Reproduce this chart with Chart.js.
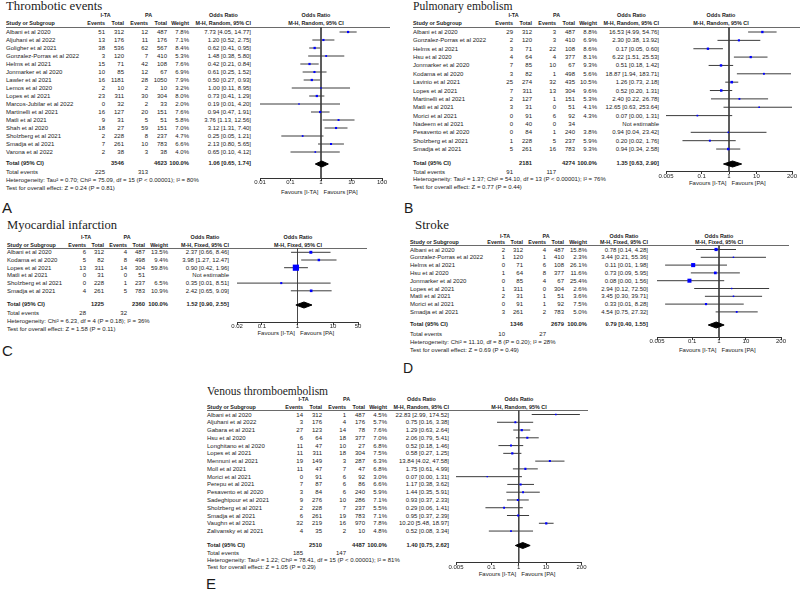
<!DOCTYPE html>
<html>
<head>
<meta charset="utf-8">
<script src="https://cdn.jsdelivr.net/npm/chart.js@4.4.1/dist/chart.umd.min.js"></script>
<style>
  body { margin: 0; background: #fff; }
  #page { position: relative; width: 800px; height: 596px; overflow: hidden; background: #fff;
          font-family: "Liberation Sans", Arial, sans-serif; color: #1b1b1b; }
  .t { position: absolute; white-space: nowrap; }
  .hl { position: absolute; height: 1px; background: #6a6a6a; }
  canvas { position: absolute; }
</style>
</head>
<body>
<div id="page"></div>
<script>
// ---------- A: Thrombotic events ----------
const teStudies = ['Albani et al 2020', 'Aljuhani et al 2022', 'Goligher et al 2021', 'Gonzalez-Porras et al 2022', 'Helms et al 2021', 'Jonmarker et al 2020', 'Lawler et al 2021', 'Lemos et al 2020', 'Lopes et al 2021', 'Marcos-Jubilar et al 2022', 'Martinelli et al 2021', 'Matli et al 2021', 'Shah et al 2020', 'Sholzberg et al 2021', 'Smadja et al 2021', 'Varona et al 2022'];
const teItaEvents = [51, 13, 38, 3, 15, 10, 16, 2, 23, 0, 16, 9, 18, 2, 7, 2];
const teItaTotal = [312, 176, 536, 120, 71, 85, 1181, 10, 311, 32, 127, 31, 27, 228, 261, 38];
const tePaEvents = [12, 11, 62, 7, 42, 12, 28, 2, 30, 2, 20, 5, 59, 8, 10, 3];
const tePaTotal = [487, 176, 567, 410, 108, 67, 1050, 10, 304, 33, 151, 51, 151, 237, 783, 38];
const teWeight = [7.8, 7.1, 8.4, 5.3, 7.6, 6.9, 7.9, 3.2, 8.0, 2.0, 7.6, 5.8, 7.0, 4.7, 6.6, 4.0];
const teOR = [7.73, 1.20, 0.62, 1.48, 0.42, 0.61, 0.50, 1.00, 0.73, 0.19, 0.94, 3.76, 3.12, 0.25, 2.13, 0.65];
const teLow = [4.05, 0.52, 0.41, 0.38, 0.21, 0.25, 0.27, 0.11, 0.41, 0.01, 0.47, 1.13, 1.31, 0.05, 0.80, 0.10];
const teHigh = [14.77, 2.75, 0.95, 5.80, 0.84, 1.52, 0.93, 8.95, 1.29, 4.20, 1.91, 12.56, 7.40, 1.21, 5.65, 4.12];
const teTotals = [3546, 4623];
const teEvents = [225, 313];
const tePooled = [1.06, 0.65, 1.74];
const teHet = 'Heterogeneity: Tau² = 0.70; Chi² = 75.09, df = 15 (P < 0.00001); I² = 80%';
const teTest = 'Test for overall effect: Z = 0.24 (P = 0.81)';
const teTicks = [0.01, 0.1, 1, 10, 100];
const teTickLabels = ['0.01', '0.1', '1', '10', '100'];

// ---------- B: Pulmonary embolism ----------
const peStudies = ['Albani et al 2020', 'Gonzalez-Porras et al 2022', 'Helms et al 2021', 'Hsu et al 2020', 'Jonmarker et al 2020', 'Kodama et al 2020', 'Lavinio et al 2021', 'Lopes et al 2021', 'Martinelli et al 2021', 'Matli et al 2021', 'Morici et al 2021', 'Nadeem et al 2021', 'Pesavento et al 2020', 'Sholzberg et al 2021', 'Smadja et al 2021'];
const peItaEvents = [29, 2, 3, 4, 7, 3, 25, 7, 2, 3, 0, 0, 0, 1, 5];
const peItaTotal = [312, 120, 71, 64, 85, 82, 274, 311, 127, 31, 91, 40, 84, 228, 261];
const pePaEvents = [3, 3, 22, 4, 10, 1, 32, 13, 1, 0, 6, 0, 1, 5, 16];
const pePaTotal = [487, 410, 108, 377, 67, 498, 435, 304, 151, 51, 92, 34, 240, 237, 783];
const peWeight = [8.8, 6.9, 8.6, 8.1, 9.3, 5.6, 10.5, 9.6, 5.3, 4.1, 4.3, null, 3.8, 5.9, 9.3];
const peOR = [16.53, 2.30, 0.17, 6.22, 0.51, 18.87, 1.26, 0.52, 2.40, 12.65, 0.07, null, 0.94, 0.20, 0.94];
const peLow = [4.99, 0.38, 0.05, 1.51, 0.18, 1.94, 0.73, 0.20, 0.22, 0.63, 0.0037, null, 0.04, 0.02, 0.34];
const peHigh = [54.76, 13.92, 0.60, 25.53, 1.42, 183.71, 2.18, 1.31, 26.78, 253.64, 1.31, null, 23.42, 1.76, 2.58];
const peTotals = [2181, 4274];
const peEvents = [91, 117];
const pePooled = [1.35, 0.63, 2.90];
const peHet = 'Heterogeneity: Tau² = 1.37; Chi² = 54.10, df = 13 (P < 0.00001); I² = 76%';
const peTest = 'Test for overall effect: Z = 0.77 (P = 0.44)';
const peTicks = [0.005, 0.1, 1, 10, 200];
const peTickLabels = ['0.005', '0.1', '1', '10', '200'];

// ---------- C: Myocardial infarction ----------
const miStudies = ['Albani et al 2020', 'Kodama et al 2020', 'Lopes et al 2021', 'Matli et al 2021', 'Sholzberg et al 2021', 'Smadja et al 2021'];
const miItaEvents = [6, 5, 13, 0, 0, 4];
const miItaTotal = [312, 82, 311, 31, 228, 261];
const miPaEvents = [4, 8, 14, 0, 1, 5];
const miPaTotal = [487, 498, 304, 51, 237, 783];
const miWeight = [13.5, 9.4, 59.8, null, 6.5, 10.9];
const miOR = [2.37, 3.98, 0.90, null, 0.35, 2.42];
const miLow = [0.66, 1.27, 0.42, null, 0.01, 0.65];
const miHigh = [8.46, 12.47, 1.96, null, 8.51, 9.09];
const miTotals = [1225, 2360];
const miEvents = [28, 32];
const miPooled = [1.52, 0.90, 2.55];
const miHet = 'Heterogeneity: Chi² = 6.23, df = 4 (P = 0.18); I² = 36%';
const miTest = 'Test for overall effect: Z = 1.58 (P = 0.11)';
const miTicks = [0.02, 0.1, 1, 10, 50];
const miTickLabels = ['0.02', '0.1', '1', '10', '50'];

// ---------- D: Stroke ----------
const stStudies = ['Albani et al 2020', 'Gonzalez-Porras et al 2022', 'Helms et al 2021', 'Hsu et al 2020', 'Jonmarker et al 2020', 'Lopes et al 2021', 'Matli et al 2021', 'Morici et al 2021', 'Smadja et al 2021'];
const stItaEvents = [2, 1, 0, 1, 0, 1, 2, 0, 3];
const stItaTotal = [312, 120, 71, 64, 85, 311, 31, 91, 261];
const stPaEvents = [4, 1, 6, 8, 4, 0, 1, 1, 2];
const stPaTotal = [487, 410, 108, 377, 67, 304, 51, 92, 783];
const stWeight = [15.8, 2.3, 26.1, 11.6, 25.4, 2.6, 3.6, 7.5, 5.0];
const stOR = [0.78, 3.44, 0.11, 0.73, 0.08, 2.94, 3.45, 0.33, 4.54];
const stLow = [0.14, 0.21, 0.01, 0.09, 0.0041, 0.12, 0.30, 0.01, 0.75];
const stHigh = [4.28, 55.36, 1.98, 5.95, 1.56, 72.50, 39.71, 8.28, 27.32];
const stTotals = [1346, 2679];
const stEvents = [10, 27];
const stPooled = [0.79, 0.40, 1.55];
const stHet = 'Heterogeneity: Chi² = 11.10, df = 8 (P = 0.20); I² = 28%';
const stTest = 'Test for overall effect: Z = 0.69 (P = 0.49)';
const stTicks = [0.005, 0.1, 1, 10, 200];
const stTickLabels = ['0.005', '0.1', '1', '10', '200'];

// ---------- E: Venous thromboembolism ----------
const vteStudies = ['Albani et al 2020', 'Aljuhani et al 2022', 'Gabara et al 2021', 'Hsu et al 2020', 'Longhitano et al 2020', 'Lopes et al 2021', 'Mennuni et al 2021', 'Moll et al 2021', 'Morici et al 2021', 'Perepu et al 2021', 'Pesavento et al 2020', 'Sadeghipour et al 2021', 'Sholzberg et al 2021', 'Smadja et al 2021', 'Vaughn et al 2021', 'Zalivansky et al 2021'];
const vteItaEvents = [14, 3, 27, 6, 11, 11, 19, 11, 0, 7, 3, 9, 2, 6, 32, 4];
const vteItaTotal = [312, 176, 123, 64, 47, 311, 149, 47, 91, 87, 84, 276, 228, 261, 219, 35];
const vtePaEvents = [1, 4, 14, 18, 10, 18, 3, 7, 6, 6, 6, 10, 7, 19, 16, 2];
const vtePaTotal = [487, 176, 78, 377, 27, 304, 287, 47, 92, 86, 240, 286, 237, 783, 970, 10];
const vteWeight = [4.5, 5.7, 7.6, 7.0, 6.8, 7.5, 6.3, 6.8, 3.0, 6.6, 5.9, 7.1, 5.5, 7.1, 7.8, 4.8];
const vteOR = [22.83, 0.75, 1.29, 2.06, 0.52, 0.58, 13.84, 1.75, 0.07, 1.17, 1.44, 0.93, 0.29, 0.95, 10.20, 0.52];
const vteLow = [2.99, 0.16, 0.63, 0.79, 0.18, 0.27, 4.02, 0.61, 0.0037, 0.38, 0.35, 0.37, 0.06, 0.37, 5.48, 0.08];
const vteHigh = [174.52, 3.38, 2.64, 5.41, 1.46, 1.25, 47.58, 4.99, 1.31, 3.62, 5.91, 2.33, 1.41, 2.39, 18.97, 3.34];
const vteTotals = [2510, 4487];
const vteEvents = [185, 147];
const vtePooled = [1.40, 0.75, 2.62];
const vteHet = 'Heterogeneity: Tau² = 1.22; Chi² = 78.41, df = 15 (P < 0.00001); I² = 81%';
const vteTest = 'Test for overall effect: Z = 1.05 (P = 0.29)';
const vteTicks = [0.005, 0.1, 1, 10, 200];
const vteTickLabels = ['0.005', '0.1', '1', '10', '200'];

const SANS = '"Liberation Sans", Arial, sans-serif';
const SERIF = '"Liberation Serif", "Times New Roman", serif';
Chart.defaults.font.family = SANS;

const HDR = 5.4;   // header font size
const TOT = 5.8;   // bold total row font size

// page layout for each panel (pixels)
const panels = [
  { letter: 'A', title: 'Thrombotic events', method: 'M-H, Random, 95% CI',
    studies: teStudies, itaEv: teItaEvents, itaN: teItaTotal, paEv: tePaEvents, paN: tePaTotal,
    weight: teWeight, or: teOR, lo: teLow, hi: teHigh, totals: teTotals, events: teEvents, pooled: tePooled,
    het: teHet, test: teTest, ticks: teTicks, tickLabels: teTickLabels,
    lay: { x0: 6, cols: [105, 124, 148, 167, 189, 251], hdr1: 16, hdr2: 23.5, line: [27, 6, 390],
           y0: 32, rowH: 8, totalY: 164, evY: 172, hetY: 180, testY: 188,
           title: { x: 6, base: 11, size: 12.8 }, letter: { x: 2, base: 213, size: 15 },
           plot: { l: 260, r: 382, min: 0.01, max: 100, axisY: 178, favY: 192, hdrX: 316 } } },
  { letter: 'B', title: 'Pulmonary embolism', method: 'M-H, Random, 95% CI',
    studies: peStudies, itaEv: peItaEvents, itaN: peItaTotal, paEv: pePaEvents, paN: pePaTotal,
    weight: peWeight, or: peOR, lo: peLow, hi: peHigh, totals: peTotals, events: peEvents, pooled: pePooled,
    het: peHet, test: peTest, ticks: peTicks, tickLabels: peTickLabels,
    lay: { x0: 413, cols: [513, 532, 556, 575, 597, 659], hdr1: 16, hdr2: 23.5, line: [27, 413, 800],
           y0: 32, rowH: 8.36, totalY: 164, evY: 172, hetY: 179, testY: 186.5,
           title: { x: 413, base: 11, size: 11.6 }, letter: { x: 404, base: 213, size: 14 },
           plot: { l: 666, r: 792, min: 0.005, max: 200, axisY: 172, favY: 183, hdrX: 721 } } },
  { letter: 'C', title: 'Myocardial infarction', method: 'M-H, Fixed, 95% CI',
    studies: miStudies, itaEv: miItaEvents, itaN: miItaTotal, paEv: miPaEvents, paN: miPaTotal,
    weight: miWeight, or: miOR, lo: miLow, hi: miHigh, totals: miTotals, events: miEvents, pooled: miPooled,
    het: miHet, test: miTest, ticks: miTicks, tickLabels: miTickLabels,
    lay: { x0: 7, cols: [86, 104, 127, 145, 168, 229], hdr1: 238, hdr2: 245.5, line: [248.5, 7, 367],
           y0: 252.3, rowH: 7.7, totalY: 305, evY: 313, hetY: 321, testY: 329,
           title: { x: 7, base: 229.5, size: 12.6 }, letter: { x: 2, base: 356, size: 15 },
           plot: { l: 237, r: 358, min: 0.02, max: 50, axisY: 322, favY: 333, hdrX: 298 } } },
  { letter: 'D', title: 'Stroke', method: 'M-H, Fixed, 95% CI',
    studies: stStudies, itaEv: stItaEvents, itaN: stItaTotal, paEv: stPaEvents, paN: stPaTotal,
    weight: stWeight, or: stOR, lo: stLow, hi: stHigh, totals: stTotals, events: stEvents, pooled: stPooled,
    het: stHet, test: stTest, ticks: stTicks, tickLabels: stTickLabels,
    lay: { x0: 410, cols: [505, 523, 546, 564, 587, 648], hdr1: 236.5, hdr2: 242.5, line: [245.5, 410, 789],
           y0: 249.5, rowH: 7.8, totalY: 325, evY: 334, hetY: 342, testY: 349.5,
           title: { x: 415, base: 228.5, size: 13 }, letter: { x: 403, base: 373, size: 14 },
           plot: { l: 657, r: 781, min: 0.005, max: 200, axisY: 337, favY: 350, hdrX: 719 } } },
  { letter: 'E', title: 'Venous thromboembolism', method: 'M-H, Random, 95% CI',
    studies: vteStudies, itaEv: vteItaEvents, itaN: vteItaTotal, paEv: vtePaEvents, paN: vtePaTotal,
    weight: vteWeight, or: vteOR, lo: vteLow, hi: vteHigh, totals: vteTotals, events: vteEvents, pooled: vtePooled,
    het: vteHet, test: vteTest, ticks: vteTicks, tickLabels: vteTickLabels,
    lay: { x0: 207, cols: [303, 322, 346, 365, 387, 449], hdr1: 400, hdr2: 407.5, line: [410.5, 207, 588],
           y0: 414.5, rowH: 7.77, totalY: 545.5, evY: 553, hetY: 560, testY: 567,
           title: { x: 207, base: 396, size: 11.5 }, letter: { x: 206, base: 589, size: 15 },
           plot: { l: 456, r: 581.5, min: 0.005, max: 200, axisY: 562.3, favY: 574.3, hdrX: 519 } } }
];

const page = document.getElementById('page');

// y is the text centre unless o.base (baseline) is given
function put(str, x, y, o) {
  o = o || {};
  const s = o.size || 6;
  const d = document.createElement('div');
  d.className = 't';
  d.textContent = str;
  d.style.fontSize = s + 'px';
  d.style.lineHeight = s + 'px';
  if (o.family) d.style.fontFamily = o.family;
  if (o.bold) d.style.fontWeight = 'bold';
  const asc = o.family === SERIF ? 0.8375 : 0.8465;
  d.style.top = (o.base != null ? o.base - asc * s : y - s / 2) + 'px';
  if (o.align === 'right') d.style.right = (800 - x) + 'px';
  else if (o.align === 'center') { d.style.left = x + 'px'; d.style.transform = 'translateX(-50%)'; }
  else d.style.left = x + 'px';
  page.appendChild(d);
  return d;
}

const f2 = v => v.toFixed(2);
const ciText = (or, lo, hi) => or == null ? 'Not estimable' : f2(or) + ' [' + f2(lo) + ', ' + f2(hi) + ']';
const markRadius = w => Math.max(1.4, 0.8 * Math.sqrt(w)) / (2 * Math.SQRT1_2);

function buildTable(p) {
  const L = p.lay, c = L.cols;
  const H = { bold: true, size: HDR };
  const HR = { bold: true, size: HDR, align: 'right' };
  const HC = { bold: true, size: HDR, align: 'center' };
  put(p.title, L.title.x, 0, { base: L.title.base, size: L.title.size, family: SERIF });
  put(p.letter, L.letter.x, 0, { base: L.letter.base, size: L.letter.size });

  // header
  put('Study or Subgroup', L.x0, L.hdr2, H);
  const ev1 = put('Events', c[0], L.hdr2, HR);
  put('Total', c[1], L.hdr2, HR);
  const ev2 = put('Events', c[2], L.hdr2, HR);
  put('Total', c[3], L.hdr2, HR);
  put('Weight', c[4], L.hdr2, HR);
  const m = put(p.method, c[5], L.hdr2, HR);
  put('I-TA', (c[0] - ev1.offsetWidth + c[1]) / 2, L.hdr1, HC);
  put('PA', (c[2] - ev2.offsetWidth + c[3]) / 2, L.hdr1, HC);
  put('Odds Ratio', c[5] - m.offsetWidth / 2, L.hdr1, HC);
  put('Odds Ratio', L.plot.hdrX, L.hdr1, HC);
  put(p.method, L.plot.hdrX, L.hdr2, HC);

  const hl = document.createElement('div');
  hl.className = 'hl';
  hl.style.left = L.line[1] + 'px';
  hl.style.top = Math.round(L.line[0] - 0.5) + 'px';
  hl.style.width = (L.line[2] - L.line[1]) + 'px';
  page.appendChild(hl);

  // study rows
  p.studies.forEach((s, i) => {
    const y = L.y0 + i * L.rowH;
    put(s, L.x0, y);
    put(String(p.itaEv[i]), c[0], y, { align: 'right' });
    put(String(p.itaN[i]), c[1], y, { align: 'right' });
    put(String(p.paEv[i]), c[2], y, { align: 'right' });
    put(String(p.paN[i]), c[3], y, { align: 'right' });
    if (p.weight[i] != null) put(p.weight[i].toFixed(1) + '%', c[4], y, { align: 'right' });
    put(ciText(p.or[i], p.lo[i], p.hi[i]), c[5], y, { align: 'right' });
  });

  // totals
  const B = { bold: true, size: TOT }, BR = { bold: true, size: TOT, align: 'right' };
  put('Total (95% CI)', L.x0, L.totalY, B);
  put(String(p.totals[0]), c[1], L.totalY, BR);
  put(String(p.totals[1]), c[3], L.totalY, BR);
  put('100.0%', c[4], L.totalY, BR);
  put(ciText(p.pooled[0], p.pooled[1], p.pooled[2]), c[5], L.totalY, BR);
  put('Total events', L.x0, L.evY);
  put(String(p.events[0]), c[0], L.evY, { align: 'right' });
  put(String(p.events[1]), c[2], L.evY, { align: 'right' });
  put(p.het, L.x0, L.hetY);
  put(p.test, L.x0, L.testY);

  // favours labels under the axis
  const x1 = (L.plot.l + L.plot.r) / 2;
  put('Favours [I-TA]', x1 - 2.5, L.plot.favY, { align: 'right' });
  put('Favours [PA]', x1 + 2.5, L.plot.favY);
}

function buildPlot(p) {
  const L = p.lay, P = L.plot;
  const left = Math.floor(P.l - 14), right = Math.ceil(P.r + 14);
  const top = Math.floor(L.line[0] - 2), bottom = Math.ceil(P.axisY + 12);
  const cv = document.createElement('canvas');
  cv.width = right - left; cv.height = bottom - top;
  cv.style.left = left + 'px'; cv.style.top = top + 'px';
  cv.style.width = cv.width + 'px'; cv.style.height = cv.height + 'px';
  page.appendChild(cv);

  const row = y => (y - L.y0) / L.rowH;   // page y -> row units
  const tRow = row(L.totalY), half = 3 / L.rowH;

  const pts = [], radii = [];
  p.or.forEach((v, i) => { if (v != null) { pts.push({ x: v, y: i }); radii.push(markRadius(p.weight[i])); } });

  const ciSets = [];
  p.or.forEach((v, i) => {
    if (v == null) return;
    ciSets.push({ data: [{ x: p.lo[i], y: i }, { x: p.hi[i], y: i }], showLine: true,
                  borderColor: '#3c3c3c', borderWidth: 1, pointRadius: 0 });
  });

  const [pOR, pLo, pHi] = p.pooled;
  const datasets = [
    { data: pts, pointStyle: 'rect', pointRadius: radii, pointBackgroundColor: '#0000ff',
      pointBorderWidth: 0, showLine: false },
    { data: [{ x: pLo, y: tRow }, { x: pOR, y: tRow - half }, { x: pHi, y: tRow }, { x: pOR, y: tRow + half }, { x: pLo, y: tRow }],
      showLine: true, fill: 'shape', backgroundColor: '#000', borderColor: '#000', borderWidth: 1, pointRadius: 0 },
    ...ciSets,
    { data: [{ x: 1, y: row(L.line[0]) }, { x: 1, y: row(P.axisY) }], showLine: true,
      borderColor: '#474747', borderWidth: 1, pointRadius: 0 }
  ];

  new Chart(cv, {
    type: 'scatter',
    data: { datasets },
    options: {
      responsive: false,
      animation: false,
      events: [],
      layout: { autoPadding: false, padding: { left: P.l - left, right: right - P.r, top: 0, bottom: 0 } },
      plugins: { legend: { display: false }, tooltip: { enabled: false } },
      scales: {
        x: {
          type: 'logarithmic', min: P.min, max: P.max,
          position: { y: row(P.axisY) },
          afterBuildTicks: s => { s.ticks = p.ticks.map(v => ({ value: v })); },
          ticks: { autoSkip: false, maxRotation: 0, padding: -1, color: '#1b1b1b',
                   font: { size: 6, family: SANS }, callback: (v, i) => p.tickLabels[i] },
          grid: { drawOnChartArea: false, drawTicks: true, tickLength: 2, color: '#333' },
          border: { display: true, color: '#333', width: 1 }
        },
        y: { type: 'linear', display: false, reverse: true, min: row(top), max: row(bottom) }
      }
    }
  });
}

panels.forEach(p => { buildTable(p); buildPlot(p); });
</script>
</body>
</html>
